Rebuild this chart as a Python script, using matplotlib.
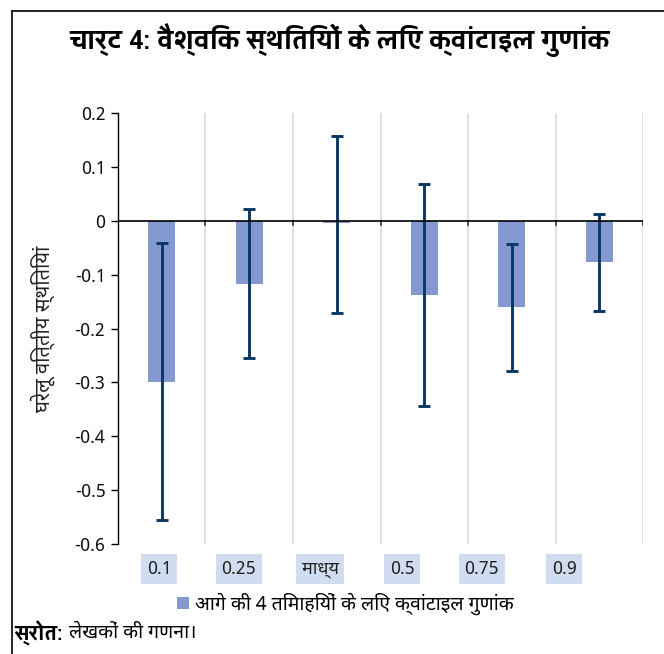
import matplotlib
matplotlib.use("Agg")
import matplotlib.pyplot as plt
import numpy as np

# quantile coefficients and their confidence bands
categories = ["0.1", "0.25", "माध्य", "0.5", "0.75", "0.9"]
coef = [-0.299, -0.117, -0.005, -0.137, -0.160, -0.076]
band_low = [-0.555, -0.254, -0.172, -0.343, -0.278, -0.167]
band_high = [-0.041, 0.022, 0.158, 0.069, -0.043, 0.013]
yticks = [0.2, 0.1, 0, -0.1, -0.2, -0.3, -0.4, -0.5, -0.6]

title = "चार्ट 4: वैश्विक स्थितियों के लिए क्वांटाइल गुणांक"
ylabel = "घरेलू वित्तीय स्थितियां"
legend_label = "आगे की 4 तिमाहियों के लिए क्वांटाइल गुणांक"

deva = ["Noto Sans Devanagari", "Hind", "DejaVu Sans"]
bold_deva = ["Yantramanav", "Noto Sans Devanagari", "DejaVu Sans"]
plt.rcParams["font.family"] = deva

bar_color = "#8499D0"
err_color = "#0B3766"

fig = plt.figure(figsize=(6.64, 6.54), dpi=100)
ax = fig.add_axes([0.1777, 0.1682, 0.7907, 0.659])

x = np.arange(len(categories))
coef_a = np.array(coef)
yerr = np.vstack([coef_a - np.array(band_low), np.array(band_high) - coef_a])
ax.bar(x, coef, width=0.31, color=bar_color, zorder=2, label=legend_label)
ax.errorbar(x, coef, yerr=yerr, fmt="none", ecolor=err_color, elinewidth=2.1,
            capsize=4.5, capthick=2.1, zorder=3)

ax.set_xlim(-0.5, len(categories) - 0.5)
ax.set_ylim(-0.6, 0.2)
ax.set_yticks(yticks)
ax.set_yticklabels(["%g" % t for t in yticks], fontsize=13, color="#111111")
ax.tick_params(axis="y", direction="out", length=5, width=1, pad=4)

# vertical separators between categories
for b in np.arange(-0.5, len(categories), 1.0)[1:]:
    ax.axvline(b, color="#D9D9D9", lw=1.2, zorder=0)
    ax.plot([b, b], [0, -0.008], color="#333333", lw=1.2, zorder=4)
ax.axhline(0, color="black", lw=1.2, zorder=4)

for s in ["top", "right", "bottom"]:
    ax.spines[s].set_visible(False)
ax.spines["left"].set_linewidth(1.0)
ax.set_xticks([])

# category labels in shaded boxes below the plot
label_pos = [0.078, 0.230, 0.385, 0.541, 0.693, 0.850]
for lab, px in zip(categories, label_pos):
    ax.text(px, -0.058, lab, transform=ax.transAxes, ha="center", va="center",
            fontsize=13, color="#222222",
            bbox=dict(boxstyle="square,pad=0.32", fc="#D0DCEF", ec="none"))

ax.set_ylabel(ylabel, fontsize=14.5, color="#222222", labelpad=14)

fig.text(0.512, 0.938, title, ha="center", va="center", fontsize=20,
         fontweight="bold", family=bold_deva)

leg = fig.legend(handles=[plt.Rectangle((0, 0), 1, 1, fc=bar_color)],
                 labels=[legend_label], loc="center", bbox_to_anchor=(0.52, 0.077),
                 frameon=False, fontsize=14, handlelength=0.6, handleheight=0.6,
                 handletextpad=0.3)

src = fig.text(0.022, 0.032, "स्रोत:", fontsize=15.5, fontweight="bold",
               va="center", family=bold_deva)
ax.annotate("लेखकों की गणना।", xy=(1, 0.5), xycoords=src, xytext=(4, 0),
            textcoords="offset points", fontsize=14, va="center",
            annotation_clip=False)

# frame lines along the top and left
fig.add_artist(plt.Line2D([0.018, 1.0], [0.983, 0.983], color="black", lw=1.2))
fig.add_artist(plt.Line2D([0.018, 0.018], [0.0, 0.983], color="black", lw=1.2))

fig.savefig("out.png", dpi=100)
